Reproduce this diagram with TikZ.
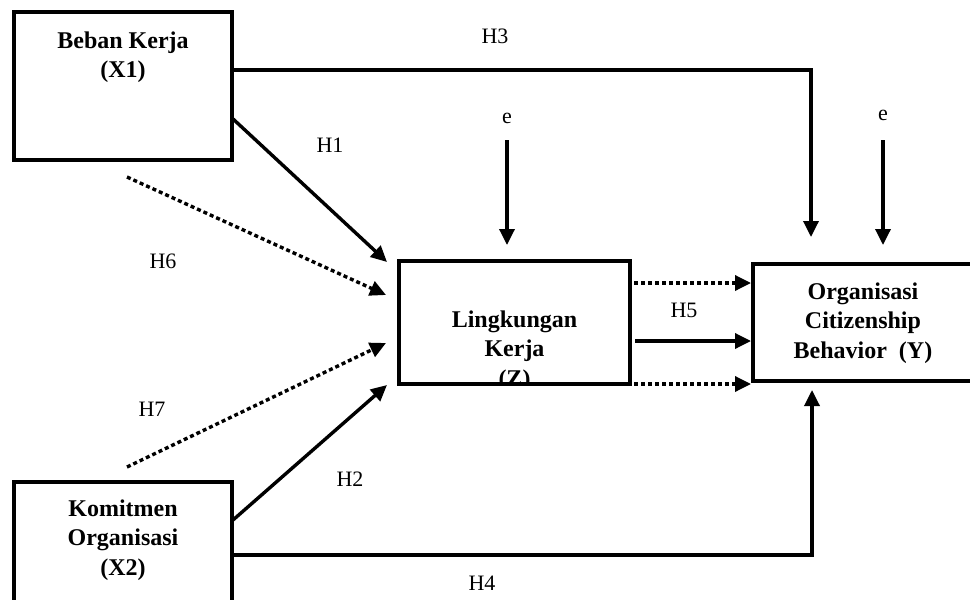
\documentclass[tikz,border=0pt]{standalone}
\usepackage{fontspec}
\setmainfont{Liberation Serif}
\usetikzlibrary{arrows.meta}
\tikzset{
  box/.style={draw, line width=4pt, rectangle, inner sep=0pt},
  boxtext/.style={font=\bfseries\fontsize{24}{29.5}\selectfont, align=center, inner sep=0pt},
  lbl/.style={font=\fontsize{22}{24}\selectfont, inner sep=0pt},
  arr/.style={line width=3.4pt, -{Triangle[length=16pt,width=15pt]}},
  dotarr/.style={arr, dash pattern=on 4pt off 3pt},
}
\begin{document}
\begin{tikzpicture}[x=1pt,y=-1pt]
\useasboundingbox (0,0) rectangle (970,600);
\fill[white] (0,0) rectangle (970,600);
% boxes
\node[box, minimum width=218pt, minimum height=148pt] (x1) at (123,86) {};
\node[box, minimum width=218pt, minimum height=140pt] (x2) at (123,552) {};
\node[box, minimum width=231pt, minimum height=123pt] (z) at (514.5,322.5) {};
\node[box, minimum width=220pt, minimum height=117pt] (y) at (863,322.5) {};
% box texts
\node[boxtext] (x1t) at (123,57) {Beban Kerja\\(X1)};
\node[boxtext] (x2t) at (123,540) {Komitmen\\Organisasi\\(X2)};
\node[boxtext] (yt) at (863,323) {Organisasi\\Citizenship\\Behavior\ \ (Y)};
\begin{scope}
\clip ([shift={(2,-2)}]z.south west) rectangle ([shift={(-2,2)}]z.north east);
\node[boxtext] (zt) at (514.5,351) {Lingkungan\\Kerja\\(Z)};
\end{scope}
% coordinates
\coordinate (h3t) at (811,237);
\coordinate (e1s) at (507,140);
\coordinate (e1t) at (507,245);
\coordinate (e2s) at (883,140);
\coordinate (e2t) at (883,245);
\coordinate (h1s) at (232,118);
\coordinate (h1t) at (387,262);
\coordinate (h6s) at (127,177);
\coordinate (h6t) at (386,295);
\coordinate (h7s) at (127,467);
\coordinate (h7t) at (386,343);
\coordinate (h2s) at (233,520);
\coordinate (h2t) at (387,385);
\coordinate (h4t) at (812,390);
% connectors
\draw[arr] (x1.east |- 0,70) -| (h3t);
\draw[arr] (e1s) -- (e1t);
\draw[arr] (e2s) -- (e2t);
\draw[arr] (h1s) -- (h1t);
\draw[dotarr] (h6s) -- (h6t);
\draw[dotarr] (h7s) -- (h7t);
\draw[arr] (h2s) -- (h2t);
\draw[dotarr] ([xshift=2pt]z.east |- 0,283) -- (y.west |- 0,283);
\draw[arr] ([xshift=3pt]z.east |- 0,341) -- (y.west |- 0,341);
\draw[dotarr] ([xshift=2pt]z.east |- 0,384) -- (y.west |- 0,384);
\draw[arr] (x2.east |- 0,555) -| (h4t);
% labels
\node[lbl] (lh3) at (495,36) {H3};
\node[lbl] (le1) at (507,118) {e};
\node[lbl] (le2) at (883,115) {e};
\node[lbl] (lh1) at (330,145) {H1};
\node[lbl] (lh6) at (163,261) {H6};
\node[lbl] (lh7) at (152,409) {H7};
\node[lbl] (lh2) at (350,479) {H2};
\node[lbl] (lh5) at (684,310) {H5};
\node[lbl] (lh4) at (482,583) {H4};
\end{tikzpicture}
\end{document}
